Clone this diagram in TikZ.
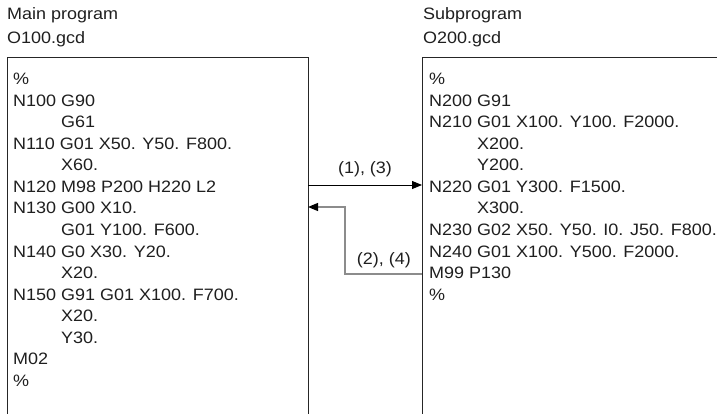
\documentclass[tikz,border=0pt]{standalone}
\usepackage{fontspec}
\setmainfont[FakeStretch=1.09]{Liberation Sans}
\usetikzlibrary{arrows.meta}

\newcommand{\ind}{\hphantom{N000 }}

\begin{document}
\begin{tikzpicture}[x=1pt,y=-1pt,
  every node/.style={inner sep=0pt,text=black!88,font=\fontsize{16.5}{21.4}\selectfont},
  code/.style={anchor=base west},
  box/.style={line width=0.9pt,black!85},
  callarrow/.style={line width=0.9pt,black,-{Triangle[length=10pt,width=8pt]}},
  returnline/.style={line width=1.2pt,black!45,-{Triangle[length=10pt,width=8pt,color=black]}}]
\useasboundingbox (0,0) rectangle (717,414);

\node[code] (maintitle) at (7,20) {Main program};
\node[code] (mainfile) at (7,44) {O100.gcd};
\node[code] (subtitle) at (423,20) {Subprogram};
\node[code] (subfile) at (423,44) {O200.gcd};

\draw[box] (7,414) -- (7,57) -- (308,57) -- (308,414);
\draw[box] (422,414) -- (422,57) -- (717,57);

\foreach \t [count=\i] in {\%, N100 G90, \ind G61, N110 G01 X50. Y50. F800.,
    \ind X60., N120 M98 P200 H220 L2, N130 G00 X10., \ind G01 Y100. F600.,
    N140 G0 X30. Y20., \ind X20., N150 G91 G01 X100. F700., \ind X20.,
    \ind Y30., M02, \%}
  \node[code] (main\i) at (13,{85+21.5*(\i-1)}) {\t};

\foreach \t [count=\i] in {\%, N200 G91, N210 G01 X100. Y100. F2000.,
    \ind X200., \ind Y200., N220 G01 Y300. F1500., \ind X300.,
    N230 G02 X50. Y50. I0. J50. F800., N240 G01 X100. Y500. F2000.,
    M99 P130, \%}
  \node[code] (sub\i) at (429,{85+21.5*(\i-1)}) {\t};

\coordinate (callfrom) at (308,185);
\coordinate (callto) at (422,185);
\coordinate (retfrom) at (422,274);
\coordinate (retto) at (308,207);

\draw[callarrow] (callfrom) -- (callto);
\draw[returnline] (retfrom) -- ++(-77,0) |- (retto);

\node[anchor=base] (calllabel) at (365,174) {(1), (3)};
\node[anchor=base east] (retlabel) at (411,264) {(2), (4)};
\end{tikzpicture}
\end{document}
